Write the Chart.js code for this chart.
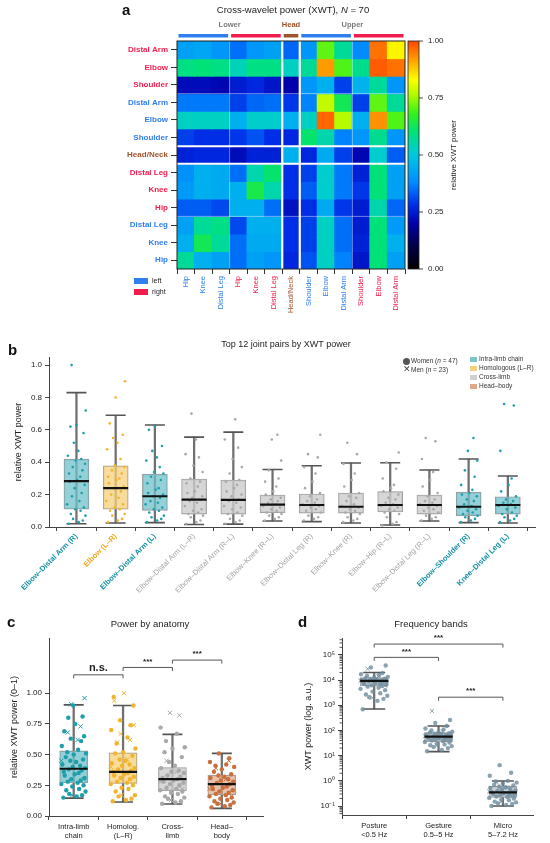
<!DOCTYPE html>
<html>
<head>
<meta charset="utf-8">
<script src="https://cdn.jsdelivr.net/npm/chart.js@4.4.1/dist/chart.umd.min.js"></script>
<style>
  body { margin: 0; background: #fff; font-family: "Liberation Sans", Arial, sans-serif; }
  #page { position: relative; width: 550px; height: 843px; overflow: hidden; }
  canvas { position: absolute; }
  .txt { position: absolute; white-space: nowrap; color: #222; line-height: 1; }
  .letter { font-weight: bold; font-size: 15px; color: #111; }
  .ttl { font-size: 9.5px; transform: translateX(-50%); }
  .leg { font-size: 6.5px; color: #333; }
  .sw { position: absolute; }
</style>
</head>
<body>
<div id="page">
  <canvas id="chartA" width="550" height="322" style="left:0;top:0"></canvas>
  <canvas id="chartB" width="550" height="265" style="left:0;top:340px"></canvas>
  <canvas id="chartC" width="280" height="238" style="left:0;top:605px"></canvas>
  <canvas id="chartD" width="270" height="238" style="left:280px;top:605px"></canvas>

  <div class="txt letter" style="left:122px;top:2px">a</div>
  <div class="txt ttl" style="left:293px;top:5px">Cross-wavelet power (XWT), <i>N</i> = 70</div>
  <div class="sw" style="left:134px;top:278px;width:14px;height:6px;background:#2f7fef"></div>
  <div class="txt" style="left:152px;top:277px;font-size:7px">left</div>
  <div class="sw" style="left:134px;top:289px;width:14px;height:6px;background:#f21d4d"></div>
  <div class="txt" style="left:152px;top:288px;font-size:7px">right</div>

  <div class="txt letter" style="left:8px;top:342px">b</div>
  <div class="txt ttl" style="left:286px;top:340px;font-size:9px">Top 12 joint pairs by XWT power</div>
  <div class="sw" style="left:403px;top:358px;width:7px;height:7px;border-radius:50%;background:#555"></div>
  <div class="txt leg" style="left:411px;top:358px">Women (<i>n</i> = 47)</div>
  <div class="txt" style="left:403px;top:365px;font-size:9px;color:#444">&#x2715;</div>
  <div class="txt leg" style="left:411px;top:367px">Men (<i>n</i> = 23)</div>
  <div class="sw" style="left:470px;top:357px;width:7px;height:5px;background:#7cc5cc"></div>
  <div class="txt leg" style="left:479px;top:356px">Intra-limb chain</div>
  <div class="sw" style="left:470px;top:366px;width:7px;height:5px;background:#f5d283"></div>
  <div class="txt leg" style="left:479px;top:365px">Homologous (L–R)</div>
  <div class="sw" style="left:470px;top:375px;width:7px;height:5px;background:#cfcfcf"></div>
  <div class="txt leg" style="left:479px;top:374px">Cross-limb</div>
  <div class="sw" style="left:470px;top:384px;width:7px;height:5px;background:#dca88a"></div>
  <div class="txt leg" style="left:479px;top:383px">Head–body</div>

  <div class="txt letter" style="left:7px;top:614px">c</div>
  <div class="txt ttl" style="left:150px;top:619px">Power by anatomy</div>
  <div class="txt letter" style="left:298px;top:614px">d</div>
  <div class="txt ttl" style="left:431px;top:619px">Frequency bands</div>
</div>

<script>
// ---- panel a: joint x joint relative XWT power ----
const COLS = ['Hip', 'Knee', 'Distal Leg', 'Hip', 'Knee', 'Distal Leg', 'Head/Neck',
  'Shoulder', 'Elbow', 'Distal Arm', 'Shoulder', 'Elbow', 'Distal Arm'];
const COL_SIDE = ['L', 'L', 'L', 'R', 'R', 'R', 'H', 'L', 'L', 'L', 'R', 'R', 'R'];
const ROWS = ['Distal Arm', 'Elbow', 'Shoulder', 'Distal Arm', 'Elbow', 'Shoulder', 'Head/Neck',
  'Distal Leg', 'Knee', 'Hip', 'Distal Leg', 'Knee', 'Hip'];
const ROW_SIDE = ['R', 'R', 'R', 'L', 'L', 'L', 'H', 'R', 'R', 'R', 'L', 'L', 'L'];
const XWT = [
  [0.42, 0.43, 0.40, 0.35, 0.40, 0.42, 0.34, 0.40, 0.71, 0.57, 0.38, 0.96, 0.84],
  [0.59, 0.60, 0.59, 0.54, 0.59, 0.59, 0.53, 0.57, 0.92, 0.70, 0.58, 0.98, 0.96],
  [0.22, 0.22, 0.21, 0.25, 0.27, 0.24, 0.20, 0.40, 0.45, 0.30, 0.46, 0.57, 0.40],
  [0.36, 0.36, 0.36, 0.30, 0.34, 0.35, 0.29, 0.37, 0.78, 0.63, 0.30, 0.71, 0.57],
  [0.53, 0.53, 0.53, 0.45, 0.52, 0.52, 0.45, 0.53, 0.97, 0.77, 0.45, 0.93, 0.70],
  [0.30, 0.28, 0.28, 0.29, 0.32, 0.28, 0.27, 0.61, 0.55, 0.37, 0.40, 0.58, 0.40],
  [0.26, 0.27, 0.27, 0.22, 0.26, 0.26, 0.45, 0.27, 0.44, 0.30, 0.21, 0.52, 0.33],
  [0.39, 0.45, 0.44, 0.35, 0.55, 0.61, 0.28, 0.30, 0.52, 0.36, 0.26, 0.60, 0.42],
  [0.41, 0.45, 0.44, 0.45, 0.64, 0.55, 0.28, 0.33, 0.52, 0.36, 0.29, 0.60, 0.42],
  [0.33, 0.33, 0.31, 0.45, 0.45, 0.35, 0.23, 0.28, 0.44, 0.29, 0.25, 0.55, 0.34],
  [0.42, 0.57, 0.59, 0.31, 0.45, 0.45, 0.28, 0.30, 0.53, 0.35, 0.25, 0.60, 0.41],
  [0.45, 0.63, 0.57, 0.35, 0.44, 0.44, 0.28, 0.30, 0.53, 0.35, 0.26, 0.60, 0.45],
  [0.57, 0.45, 0.42, 0.35, 0.42, 0.40, 0.27, 0.32, 0.53, 0.37, 0.24, 0.60, 0.42]
];
const CBAR_TICKS = [0, 0.25, 0.5, 0.75, 1];

// ---- panel b: top 12 joint pairs ----
const B_PAIRS = ['Elbow–Distal Arm (R)', 'Elbow (L–R)', 'Elbow–Distal Arm (L)', 'Elbow–Distal Arm (L–R)',
  'Elbow–Distal Arm (R–L)', 'Elbow–Knee (R–L)', 'Elbow–Distal Leg (R)', 'Elbow–Knee (R)',
  'Elbow–Hip (R–L)', 'Elbow–Distal Leg (R–L)', 'Elbow–Shoulder (R)', 'Knee–Distal Leg (L)'];
const B_TYPE = ['intra', 'homo', 'intra', 'cross', 'cross', 'cross', 'cross', 'cross', 'cross', 'cross', 'intra', 'intra'];
const B_LO = [0.02, 0.025, 0.027, 0.015, 0.018, 0.037, 0.033, 0.025, 0.012, 0.037, 0.027, 0.025];
const B_Q1 = [0.11, 0.11, 0.103, 0.08, 0.08, 0.088, 0.086, 0.086, 0.093, 0.08, 0.07, 0.08];
const B_MED = [0.283, 0.24, 0.19, 0.169, 0.167, 0.138, 0.136, 0.125, 0.136, 0.136, 0.125, 0.136];
const B_Q3 = [0.42, 0.378, 0.327, 0.296, 0.29, 0.197, 0.204, 0.21, 0.218, 0.197, 0.215, 0.187];
const B_HI = [0.83, 0.69, 0.63, 0.555, 0.586, 0.355, 0.378, 0.395, 0.397, 0.352, 0.42, 0.315];
const B_PTS = [
  [0.02, 0.03, 0.04, 0.05, 0.07, 0.08, 0.1, 0.11, 0.12, 0.14, 0.16, 0.19, 0.21, 0.24, 0.26, 0.28, 0.29, 0.31, 0.33, 0.35, 0.37, 0.39, 0.41, 0.42, 0.44, 0.47, 0.52, 0.58, 0.62, 0.63, 0.72, 1.0],
  [0.03, 0.04, 0.05, 0.07, 0.08, 0.1, 0.11, 0.12, 0.14, 0.16, 0.18, 0.2, 0.22, 0.24, 0.25, 0.27, 0.29, 0.3, 0.31, 0.33, 0.35, 0.37, 0.38, 0.42, 0.48, 0.52, 0.55, 0.57, 0.64, 0.8, 0.9],
  [0.03, 0.04, 0.05, 0.06, 0.07, 0.09, 0.1, 0.11, 0.12, 0.14, 0.15, 0.16, 0.18, 0.19, 0.2, 0.21, 0.23, 0.24, 0.27, 0.29, 0.31, 0.33, 0.34, 0.37, 0.41, 0.43, 0.47, 0.5, 0.6, 0.62],
  [0.02, 0.03, 0.04, 0.06, 0.07, 0.08, 0.09, 0.1, 0.11, 0.13, 0.15, 0.16, 0.17, 0.18, 0.19, 0.21, 0.22, 0.25, 0.27, 0.28, 0.3, 0.34, 0.38, 0.43, 0.45, 0.54, 0.7],
  [0.02, 0.03, 0.04, 0.05, 0.07, 0.08, 0.09, 0.11, 0.12, 0.13, 0.15, 0.16, 0.17, 0.19, 0.2, 0.22, 0.24, 0.26, 0.28, 0.29, 0.33, 0.37, 0.42, 0.49, 0.54, 0.665],
  [0.04, 0.05, 0.06, 0.07, 0.08, 0.09, 0.1, 0.11, 0.12, 0.13, 0.14, 0.15, 0.16, 0.17, 0.18, 0.2, 0.22, 0.25, 0.28, 0.3, 0.35, 0.41, 0.54, 0.57],
  [0.04, 0.05, 0.06, 0.07, 0.09, 0.1, 0.11, 0.12, 0.13, 0.14, 0.15, 0.16, 0.17, 0.19, 0.21, 0.24, 0.28, 0.33, 0.37, 0.43, 0.45, 0.57],
  [0.03, 0.04, 0.05, 0.06, 0.08, 0.09, 0.1, 0.11, 0.12, 0.13, 0.14, 0.16, 0.18, 0.19, 0.21, 0.25, 0.29, 0.33, 0.39, 0.45, 0.52],
  [0.01, 0.02, 0.03, 0.06, 0.08, 0.09, 0.1, 0.11, 0.12, 0.13, 0.14, 0.15, 0.17, 0.18, 0.2, 0.22, 0.24, 0.26, 0.3, 0.36, 0.4, 0.46],
  [0.04, 0.05, 0.06, 0.07, 0.09, 0.1, 0.11, 0.12, 0.13, 0.14, 0.15, 0.16, 0.17, 0.19, 0.21, 0.25, 0.29, 0.34, 0.42, 0.53, 0.55],
  [0.03, 0.04, 0.05, 0.06, 0.07, 0.08, 0.09, 0.1, 0.11, 0.12, 0.13, 0.14, 0.16, 0.17, 0.19, 0.2, 0.21, 0.23, 0.26, 0.31, 0.35, 0.41, 0.47, 0.55],
  [0.03, 0.04, 0.05, 0.06, 0.07, 0.08, 0.09, 0.11, 0.12, 0.13, 0.14, 0.15, 0.16, 0.17, 0.19, 0.22, 0.26, 0.3, 0.47, 0.75, 0.76]
];

// ---- panel c: power by anatomy ----
const C_GROUPS = [['Intra-limb', 'chain'], ['Homolog.', '(L–R)'], ['Cross-', 'limb'], ['Head–', 'body']];
const C_TYPE = ['intra', 'homo', 'cross', 'head'];
const C_LO = [0.146, 0.114, 0.098, 0.062];
const C_Q1 = [0.27, 0.266, 0.206, 0.171];
const C_MED = [0.385, 0.36, 0.30, 0.26];
const C_Q3 = [0.53, 0.515, 0.394, 0.334];
const C_HI = [0.905, 0.90, 0.665, 0.51];
const C_WOMEN = [
  [0.15, 0.16, 0.17, 0.18, 0.2, 0.21, 0.22, 0.24, 0.25, 0.26, 0.27, 0.28, 0.29, 0.3, 0.31, 0.33, 0.34, 0.35, 0.36, 0.37, 0.38, 0.39, 0.4, 0.41, 0.42, 0.44, 0.45, 0.46, 0.48, 0.5, 0.51, 0.52, 0.54, 0.57, 0.61, 0.63, 0.65, 0.69, 0.75, 0.8, 0.81, 0.9],
  [0.12, 0.13, 0.14, 0.16, 0.17, 0.2, 0.22, 0.23, 0.25, 0.26, 0.27, 0.28, 0.3, 0.31, 0.32, 0.33, 0.34, 0.35, 0.36, 0.37, 0.38, 0.39, 0.41, 0.42, 0.43, 0.45, 0.46, 0.49, 0.51, 0.52, 0.55, 0.59, 0.64, 0.7, 0.74, 0.78, 0.9, 0.97],
  [0.1, 0.11, 0.12, 0.14, 0.15, 0.16, 0.18, 0.19, 0.2, 0.21, 0.22, 0.23, 0.25, 0.26, 0.27, 0.28, 0.29, 0.3, 0.31, 0.32, 0.33, 0.35, 0.36, 0.37, 0.39, 0.41, 0.44, 0.48, 0.52, 0.55, 0.56, 0.61, 0.67, 0.72],
  [0.07, 0.08, 0.09, 0.1, 0.11, 0.12, 0.13, 0.14, 0.15, 0.16, 0.17, 0.18, 0.19, 0.2, 0.21, 0.22, 0.23, 0.24, 0.25, 0.26, 0.27, 0.28, 0.29, 0.3, 0.31, 0.32, 0.33, 0.34, 0.36, 0.38, 0.4, 0.41, 0.42, 0.44, 0.47, 0.51]
];
const C_MEN = [
  [0.17, 0.3, 0.45, 0.62, 0.68, 0.73, 0.91, 0.96],
  [0.17, 0.26, 0.4, 0.46, 0.6, 0.62, 0.67, 0.74, 0.94, 1.0],
  [0.13, 0.22, 0.28, 0.36, 0.45, 0.82, 0.84],
  [0.1, 0.16, 0.22, 0.3, 0.39, 0.45]
];
const C_BRACKETS = [[0, 1, 1.15, 'n.s.'], [1, 2, 1.21, '***'], [2, 3, 1.27, '***']];

// ---- panel d: frequency bands ----
const D_BANDS = [['Posture', '<0.5 Hz'], ['Gesture', '0.5–5 Hz'], ['Micro', '5–7.2 Hz']];
const D_LO = [710, 14.5, 0.10];
const D_Q1 = [5900, 36, 0.22];
const D_MED = [9300, 57, 0.35];
const D_Q3 = [12600, 83, 0.6];
const D_HI = [20000, 150, 0.98];
const D_WOMEN = [
  [700, 1500, 1800, 2100, 2400, 2700, 3000, 3500, 4000, 4500, 5000, 5500, 5800, 6200, 6500, 7000, 7300, 7700, 8000, 8400, 8800, 9100, 9300, 9700, 10000, 10500, 11000, 11500, 12000, 12800, 13500, 15000, 16000, 17000, 19000, 32000, 38000],
  [15, 17, 20, 22, 24, 26, 28, 30, 33, 35, 38, 40, 42, 44, 46, 48, 50, 52, 54, 56, 58, 60, 62, 65, 68, 72, 75, 78, 82, 86, 90, 100, 110, 120, 150, 200, 260],
  [0.1, 0.11, 0.12, 0.13, 0.14, 0.15, 0.17, 0.18, 0.2, 0.21, 0.23, 0.24, 0.26, 0.27, 0.29, 0.3, 0.32, 0.33, 0.35, 0.37, 0.4, 0.42, 0.45, 0.48, 0.52, 0.56, 0.6, 0.65, 0.7, 0.78, 0.85, 0.95, 1.0, 1.6, 2.1, 4.2]
];
const D_MEN = [
  [2000, 6000, 9500, 14000, 28000],
  [25, 45, 60, 90, 600],
  [0.15, 0.25, 0.38, 0.55, 0.9]
];
const D_BRACKETS = [[0, 2, 2.7e5, '***'], [0, 1, 8e4, '***'], [1, 2, 2.1e3, '***']];

// horizontal jitter pattern for the strip points (fraction of a slot)
const JIT = [-0.21, 0.06, 0.17, -0.09, 0.24, -0.15, 0.11, -0.03, 0.2, -0.25, 0.08, -0.12, 0.14, -0.05,
  0.22, -0.18, 0.02, 0.1, -0.2, 0.16, -0.1, 0.23, -0.02, 0.13, -0.23, 0.05, -0.07, 0.19, -0.16, 0.0,
  0.25, -0.13, 0.09, -0.24, 0.15, -0.06, 0.21, -0.19, 0.03, -0.11, 0.18, -0.01];

const SIDE_COLOR = { L: '#2f7fef', R: '#f21d4d', H: '#a0522d' };
const TYPE_STYLE = {
  intra: { box: 'rgba(112,192,201,0.75)', dot: '#1f9eab', text: '#1793a1' },
  homo: { box: 'rgba(246,208,122,0.75)', dot: '#f2b42c', text: '#f0a920' },
  cross: { box: 'rgba(204,204,204,0.8)', dot: '#a9a9a9', text: '#a3a3a3' },
  head: { box: 'rgba(222,168,138,0.7)', dot: '#c8703e', text: '#333' }
};

Chart.defaults.font.family = '"Liberation Sans", Arial, sans-serif';
Chart.defaults.font.size = 8;
Chart.defaults.color = '#222';

// jet-like colormap of the heatmap
const CMAP = [[0, 0, 0, 0], [0.1, 0, 0, 70], [0.2, 0, 0, 170], [0.28, 0, 45, 230], [0.38, 0, 140, 255],
  [0.5, 0, 200, 225], [0.6, 0, 225, 120], [0.68, 50, 240, 30], [0.76, 170, 250, 0],
  [0.83, 255, 255, 0], [0.92, 255, 155, 0], [1, 255, 70, 0]];
function cmap(v) {
  v = Math.max(0, Math.min(1, v));
  for (let i = 1; i < CMAP.length; i++) {
    if (v <= CMAP[i][0]) {
      const a = CMAP[i - 1], b = CMAP[i], t = (v - a[0]) / (b[0] - a[0]);
      return 'rgb(' + [1, 2, 3].map(k => Math.round(a[k] + (b[k] - a[k]) * t)).join(',') + ')';
    }
  }
  return 'rgb(255,70,0)';
}

const heatExtras = {
  id: 'heatExtras',
  afterDatasetsDraw(chart) {
    const { ctx, chartArea: a, scales: { x, y } } = chart;
    const half = (x.getPixelForValue(1) - x.getPixelForValue(0)) / 2;
    ctx.save();
    [[2.5, 1, 'rgba(255,255,255,0.45)'], [5.5, 2.2, '#fff'], [6.5, 2.2, '#fff'], [9.5, 1, 'rgba(255,255,255,0.45)']]
      .forEach(([v, w, c]) => {
        ctx.strokeStyle = c; ctx.lineWidth = w;
        const px = x.getPixelForValue(Math.floor(v)) + half;
        ctx.beginPath(); ctx.moveTo(px, a.top); ctx.lineTo(px, a.bottom); ctx.stroke();
        const py = y.getPixelForValue(v);
        ctx.beginPath(); ctx.moveTo(a.left, py); ctx.lineTo(a.right, py); ctx.stroke();
      });
    ctx.strokeStyle = '#222'; ctx.lineWidth = 1;
    ctx.strokeRect(a.left, a.top, a.right - a.left, a.bottom - a.top);
    // body-region bars above the columns
    [[0, 2, 'L'], [3, 5, 'R'], [6, 6, 'H'], [7, 9, 'L'], [10, 12, 'R']].forEach(([f, t, s]) => {
      const x0 = x.getPixelForValue(f) - half + 1.5, x1 = x.getPixelForValue(t) + half - 1.5;
      ctx.fillStyle = SIDE_COLOR[s];
      ctx.fillRect(x0, a.top - 7, x1 - x0, 3.5);
    });
    ctx.font = 'bold 7.5px "Liberation Sans"';
    ctx.textAlign = 'center'; ctx.textBaseline = 'middle';
    [['Lower', 0, 5, '#7a7a7a'], ['Head', 6, 6, SIDE_COLOR.H], ['Upper', 7, 12, '#7a7a7a']].forEach(([t, f, l, c]) => {
      ctx.fillStyle = c;
      ctx.fillText(t, (x.getPixelForValue(f) + x.getPixelForValue(l)) / 2, a.top - 16);
    });
    // colour bar
    const cx = a.right + 3, cw = 11, h = a.bottom - a.top;
    const g = ctx.createLinearGradient(0, a.bottom, 0, a.top);
    CMAP.forEach(s => g.addColorStop(s[0], `rgb(${s[1]},${s[2]},${s[3]})`));
    ctx.fillStyle = g;
    ctx.fillRect(cx, a.top, cw, h);
    ctx.strokeStyle = '#222'; ctx.lineWidth = 0.8;
    ctx.strokeRect(cx, a.top, cw, h);
    ctx.font = '8px "Liberation Sans"'; ctx.textAlign = 'left'; ctx.fillStyle = '#222';
    CBAR_TICKS.forEach(v => {
      const py = a.bottom - v * h;
      ctx.beginPath(); ctx.moveTo(cx + cw, py); ctx.lineTo(cx + cw + 4, py); ctx.stroke();
      ctx.fillText(v.toFixed(2), cx + cw + 9, py);
    });
    ctx.translate(cx + 46, (a.top + a.bottom) / 2);
    ctx.rotate(-Math.PI / 2);
    ctx.textAlign = 'center';
    ctx.fillText('relative XWT power', 0, 0);
    ctx.restore();
  }
};

new Chart(document.getElementById('chartA'), {
  type: 'bar',
  data: {
    labels: COLS,
    datasets: ROWS.map((r, ri) => ({
      label: r,
      data: COLS.map(() => [ri - 0.5, ri + 0.5]),
      backgroundColor: XWT[ri].map(cmap),
      borderWidth: 0,
      inflateAmount: 0.6,
      grouped: false, barPercentage: 1, categoryPercentage: 1
    }))
  },
  options: {
    responsive: false, animation: false, events: [],
    layout: { padding: { top: 41, right: 145, left: 0, bottom: 0 } },
    plugins: { legend: { display: false }, tooltip: { enabled: false } },
    scales: {
      x: {
        ticks: { minRotation: 90, maxRotation: 90, autoSkip: false, padding: 2, font: { size: 7.5 },
          color: ctx => SIDE_COLOR[COL_SIDE[ctx.index]] },
        grid: { drawOnChartArea: false, tickLength: 5, color: '#333' },
        border: { display: false },
        afterFit: s => { s.height = 53; }
      },
      y: {
        type: 'linear', min: -0.5, max: 12.5, reverse: true,
        afterBuildTicks: s => { s.ticks = ROWS.map((_, i) => ({ value: i })); },
        ticks: { autoSkip: false, padding: 3, font: { size: 8, weight: 'bold' },
          callback: (v, i) => ROWS[i], color: ctx => SIDE_COLOR[ROW_SIDE[ctx.index]] },
        grid: { drawOnChartArea: false, tickLength: 6, color: '#333' },
        border: { display: false },
        afterFit: s => { s.width = 177; }
      }
    }
  },
  plugins: [heatExtras]
});

// ---- box-plot helpers (panels b, c, d) ----
function boxSets(o) {
  const idx = o.med.map((_, i) => i);
  const strip = (arr, shift) => idx.flatMap(i => arr[i].map((v, k) => ({ x: i + JIT[(k + shift) % JIT.length] * o.spread, y: v })));
  const dotColor = ctx => ctx.raw ? o.dot[Math.round(ctx.raw.x)] : '#999';
  const sets = [
    { type: 'bar', data: idx.map(i => ({ x: i, y: [o.lo[i], o.hi[i]] })), backgroundColor: '#707070',
      barThickness: 1.6, grouped: false, order: 6 },
    { type: 'bar', data: idx.map(i => ({ x: i, y: [o.q1[i], o.q3[i]] })), backgroundColor: o.fill,
      borderColor: '#9a9a9a', borderWidth: 0.8, borderSkipped: false, barThickness: o.boxW, grouped: false, order: 5 },
    { type: 'scatter', data: idx.flatMap(i => [{ x: i, y: o.lo[i] }, { x: i, y: o.hi[i] }]),
      pointStyle: 'line', radius: o.capR, borderColor: '#555', borderWidth: 1.6, order: 4 },
    { type: 'scatter', data: strip(o.women, 0), pointStyle: 'circle', radius: o.rW,
      backgroundColor: dotColor, borderWidth: 0, order: 3 },
    { type: 'scatter', data: idx.map(i => ({ x: i, y: o.med[i] })), pointStyle: 'line',
      radius: o.boxW / 2, borderColor: '#111', borderWidth: 2.2, order: 1 }
  ];
  if (o.men) {
    sets.push({ type: 'scatter', data: strip(o.men, 7), pointStyle: 'crossRot',
      radius: o.rM, borderColor: dotColor, borderWidth: 1, order: 2 });
  }
  return sets;
}

const brackets = {
  id: 'brackets',
  afterDatasetsDraw(chart, args, opts) {
    if (!opts.items) return;
    const { ctx, scales: { x, y } } = chart;
    ctx.save();
    ctx.strokeStyle = '#555'; ctx.lineWidth = 1;
    ctx.textAlign = 'center'; ctx.textBaseline = 'bottom'; ctx.fillStyle = '#222';
    opts.items.forEach(([f, t, v, lab]) => {
      const x0 = x.getPixelForValue(f), x1 = x.getPixelForValue(t), py = y.getPixelForValue(v);
      ctx.beginPath();
      ctx.moveTo(x0, py + 3.5); ctx.lineTo(x0, py); ctx.lineTo(x1, py); ctx.lineTo(x1, py + 3.5);
      ctx.stroke();
      ctx.font = lab === 'n.s.' ? 'bold 11px "Liberation Sans"' : 'bold 8px "Liberation Sans"';
      ctx.fillText(lab, (x0 + x1) / 2, lab === 'n.s.' ? py - 1 : py - 2);
    });
    // minor ticks on a log axis
    if (y.type === 'logarithmic') {
      const a = chart.chartArea;
      for (let d = -2; d <= 5; d++) {
        for (let m = 2; m <= 9; m++) {
          const v = m * Math.pow(10, d);
          if (v < y.min || v > y.max) continue;
          const py = y.getPixelForValue(v);
          ctx.beginPath(); ctx.moveTo(a.left - 2.5, py); ctx.lineTo(a.left, py); ctx.stroke();
        }
      }
    }
    ctx.restore();
  }
};

function axisBase() {
  return {
    grid: { drawOnChartArea: false, tickLength: 4, color: '#444' },
    border: { color: '#444', width: 1 }
  };
}

// ---- panel b ----
new Chart(document.getElementById('chartB'), {
  type: 'bar',
  data: {
    datasets: boxSets({
      lo: B_LO, q1: B_Q1, med: B_MED, q3: B_Q3, hi: B_HI,
      fill: B_TYPE.map(t => TYPE_STYLE[t].box), dot: B_TYPE.map(t => TYPE_STYLE[t].dot),
      women: B_PTS, boxW: 25, capR: 10, rW: 1.3, spread: 0.95
    })
  },
  options: {
    responsive: false, animation: false, events: [],
    layout: { padding: { top: 17, right: 5, left: 0, bottom: 0 } },
    plugins: { legend: { display: false }, tooltip: { enabled: false } },
    scales: {
      x: Object.assign(axisBase(), {
        type: 'linear', min: -0.7, max: 11.7, offset: false,
        afterBuildTicks: s => { s.ticks = B_PAIRS.map((_, i) => ({ value: i })); },
        ticks: { minRotation: 45, maxRotation: 45, autoSkip: false, padding: 1, font: ctx => ({ size: 7.5, weight: B_TYPE[ctx.index] === 'cross' ? 'normal' : 'bold' }),
          color: ctx => TYPE_STYLE[B_TYPE[ctx.index]].text, callback: (v, i) => B_PAIRS[i] },
        afterFit: s => { s.height = 78; }
      }),
      y: Object.assign(axisBase(), {
        min: 0, max: 1.05,
        afterBuildTicks: s => { s.ticks = [0, 0.2, 0.4, 0.6, 0.8, 1.0].map(v => ({ value: v })); },
        ticks: { callback: v => v.toFixed(1), padding: 3 },
        title: { display: true, text: 'relative XWT power', font: { size: 9 }, padding: { top: 13, bottom: 0 } },
        afterFit: s => { s.width = 49; }
      })
    }
  }
});

// ---- panel c ----
new Chart(document.getElementById('chartC'), {
  type: 'bar',
  data: {
    datasets: boxSets({
      lo: C_LO, q1: C_Q1, med: C_MED, q3: C_Q3, hi: C_HI,
      fill: C_TYPE.map(t => TYPE_STYLE[t].box), dot: C_TYPE.map(t => TYPE_STYLE[t].dot),
      women: C_WOMEN, men: C_MEN, boxW: 28, capR: 10, rW: 2.2, rM: 3, spread: 1.0
    })
  },
  options: {
    responsive: false, animation: false, events: [],
    layout: { padding: { top: 33, right: 10, left: 0, bottom: 0 } },
    plugins: { legend: { display: false }, tooltip: { enabled: false }, brackets: { items: C_BRACKETS } },
    scales: {
      x: Object.assign(axisBase(), {
        type: 'linear', min: -0.5, max: 3.85, offset: false,
        afterBuildTicks: s => { s.ticks = C_GROUPS.map((_, i) => ({ value: i })); },
        ticks: { maxRotation: 0, autoSkip: false, padding: 2, font: { size: 7.5 }, callback: (v, i) => C_GROUPS[i] },
        afterFit: s => { s.height = 27; }
      }),
      y: Object.assign(axisBase(), {
        min: 0, max: 1.45,
        afterBuildTicks: s => { s.ticks = [0, 0.25, 0.5, 0.75, 1.0].map(v => ({ value: v })); },
        ticks: { callback: v => v.toFixed(2), padding: 3 },
        title: { display: true, text: 'relative XWT power (0–1)', font: { size: 9 }, padding: { top: 9, bottom: 0 } },
        afterFit: s => { s.width = 49; }
      })
    }
  },
  plugins: [brackets]
});

// ---- panel d ----
const SUP = { '-': '⁻', '0': '⁰', '1': '¹', '2': '²', '3': '³', '4': '⁴', '5': '⁵' };
new Chart(document.getElementById('chartD'), {
  type: 'bar',
  data: {
    datasets: boxSets({
      lo: D_LO, q1: D_Q1, med: D_MED, q3: D_Q3, hi: D_HI,
      fill: D_MED.map(() => 'rgba(190,198,204,0.85)'), dot: D_MED.map(() => 'rgba(110,140,158,0.8)'),
      women: D_WOMEN, men: D_MEN, boxW: 28, capR: 11, rW: 2.2, rM: 3, spread: 0.85
    })
  },
  options: {
    responsive: false, animation: false, events: [],
    layout: { padding: { top: 33, right: 7, left: 0, bottom: 0 } },
    plugins: { legend: { display: false }, tooltip: { enabled: false }, brackets: { items: D_BRACKETS } },
    scales: {
      x: Object.assign(axisBase(), {
        type: 'linear', min: -0.5, max: 2.48, offset: false,
        afterBuildTicks: s => { s.ticks = D_BANDS.map((_, i) => ({ value: i })); },
        ticks: { maxRotation: 0, autoSkip: false, padding: 2, font: { size: 7.5 }, callback: (v, i) => D_BANDS[i] },
        afterFit: s => { s.height = 28; }
      }),
      y: Object.assign(axisBase(), {
        type: 'logarithmic', min: 0.044, max: 4.7e5,
        afterBuildTicks: s => { s.ticks = [-1, 0, 1, 2, 3, 4, 5].map(e => ({ value: Math.pow(10, e) })); },
        ticks: { padding: 3, callback: v => '10' + String(Math.round(Math.log10(v))).split('').map(c => SUP[c]).join('') },
        title: { display: true, text: 'XWT power (log. a.u.)', font: { size: 9 }, padding: { top: 23, bottom: 0 } },
        afterFit: s => { s.width = 62; }
      })
    }
  },
  plugins: [brackets]
});
</script>
</body>
</html>
